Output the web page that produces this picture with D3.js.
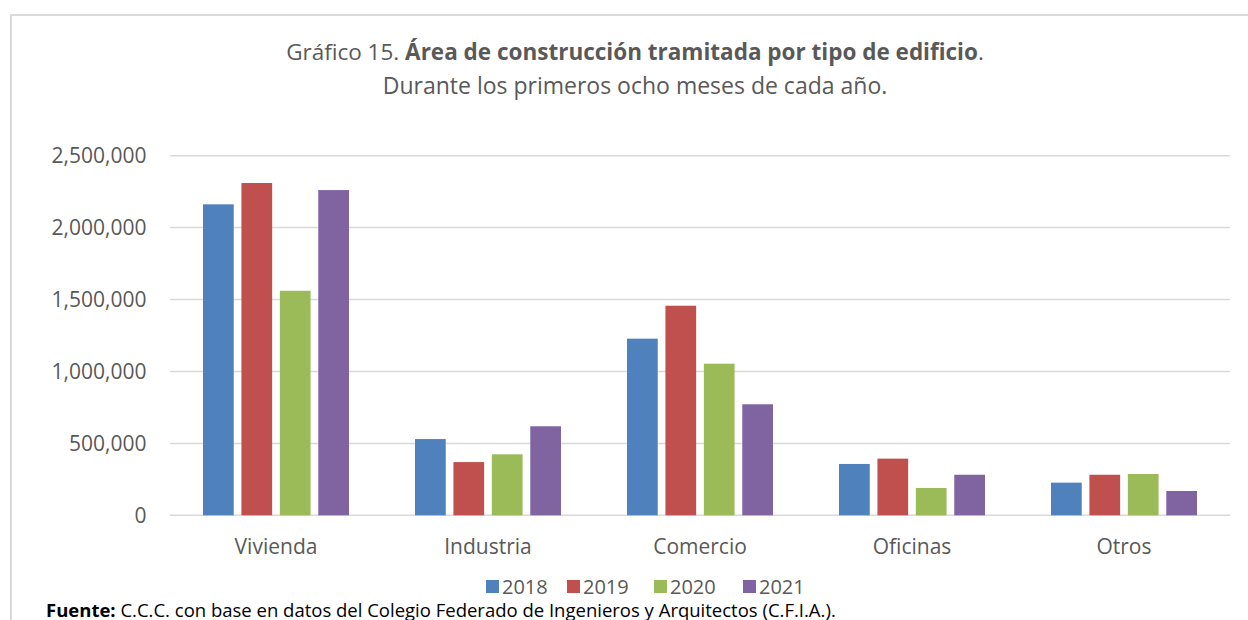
<!DOCTYPE html>
<html>
<head>
<meta charset="utf-8">
<script src="https://cdn.jsdelivr.net/npm/d3@7"></script>
<style>
  html, body { margin: 0; padding: 0; background: #fff; }
  svg { display: block; }
  text { font-family: "Open Sans", "Noto Sans", sans-serif; fill: #595959; }
</style>
</head>
<body>
<svg id="chart" width="1248" height="620"></svg>
<script>
const categories = ["Vivienda", "Industria", "Comercio", "Oficinas", "Otros"];
const years = ["2018", "2019", "2020", "2021"];
const values2018 = [2162000, 530000, 1228000, 357000, 227000];
const values2019 = [2310000, 370000, 1457000, 394000, 282000];
const values2020 = [1561000, 424000, 1054000, 190000, 287000];
const values2021 = [2261000, 619000, 772000, 282000, 169000];
const yTicks = [0, 500000, 1000000, 1500000, 2000000, 2500000];
const colors = ["#4F81BD", "#C0504D", "#9BBB59", "#8064A2"];

const series = [values2018, values2019, values2020, values2021];

const svg = d3.select("#chart");

// outer chart border
svg.append("path")
  .attr("d", "M11,620 L11,15 L1248,15")
  .attr("fill", "none")
  .attr("stroke", "#d9d9d9")
  .attr("stroke-width", 2);

// title
const t1 = svg.append("text").attr("x", 635).attr("y", 60)
  .attr("text-anchor", "middle").style("font-size", "22.5px");
t1.append("tspan").text("Gráfico 15. ");
t1.append("tspan").style("font-weight", "bold").text("Área de construcción tramitada por tipo de edificio");
t1.append("tspan").text(".");
svg.append("text").attr("x", 635).attr("y", 94)
  .attr("text-anchor", "middle").style("font-size", "23px")
  .text("Durante los primeros ocho meses de cada año.");

const plotLeft = 170, plotRight = 1230, plotTop = 155.7, plotBottom = 515.3;

const y = d3.scaleLinear().domain([0, 2500000]).range([plotBottom, plotTop]);
const x0 = d3.scaleBand().domain(categories).range([plotLeft, plotRight]).padding(0);
const x1 = d3.scaleBand().domain(years).range([33, x0.bandwidth() - 33]).paddingInner(0.2).paddingOuter(0);

// gridlines
svg.append("g").selectAll("line").data(yTicks).join("line")
  .attr("x1", plotLeft).attr("x2", plotRight)
  .attr("y1", d => y(d)).attr("y2", d => y(d))
  .attr("stroke", "#d9d9d9").attr("stroke-width", 1.5);

// y axis labels
const fmt = d3.format(",");
svg.append("g").selectAll("text").data(yTicks).join("text")
  .attr("x", 146.5).attr("y", d => y(d)).attr("dy", "0.36em")
  .attr("text-anchor", "end").style("font-size", "21px")
  .text(d => fmt(d));

// bars
const groups = svg.append("g").selectAll("g").data(categories).join("g")
  .attr("transform", c => `translate(${x0(c)},0)`);
groups.selectAll("rect").data((c, i) => years.map((yr, j) => ({ yr, j, v: series[j][i] })))
  .join("rect")
  .attr("x", d => x1(d.yr))
  .attr("width", x1.bandwidth())
  .attr("y", d => y(d.v))
  .attr("height", d => y(0) - y(d.v))
  .attr("fill", d => colors[d.j]);

// category labels
svg.append("g").selectAll("text").data(categories).join("text")
  .attr("x", c => x0(c) + x0.bandwidth() / 2).attr("y", 554)
  .attr("text-anchor", "middle").style("font-size", "21px")
  .text(c => c);

// legend
const legendX = [486, 567, 654, 743];
const lg = svg.append("g").selectAll("g").data(years).join("g")
  .attr("transform", (d, i) => `translate(${legendX[i]},580)`);
lg.append("rect").attr("width", 13).attr("height", 13).attr("fill", (d, i) => colors[i]);
lg.append("text").attr("x", 16).attr("y", 14).style("font-size", "20px").text(d => d);

// source
const src = svg.append("text").attr("x", 46).attr("y", 617).style("font-size", "18.5px").style("fill", "#000");
src.append("tspan").style("font-weight", "bold").text("Fuente:");
src.append("tspan").text(" C.C.C. con base en datos del Colegio Federado de Ingenieros y Arquitectos (C.F.I.A.).");
</script>
</body>
</html>
